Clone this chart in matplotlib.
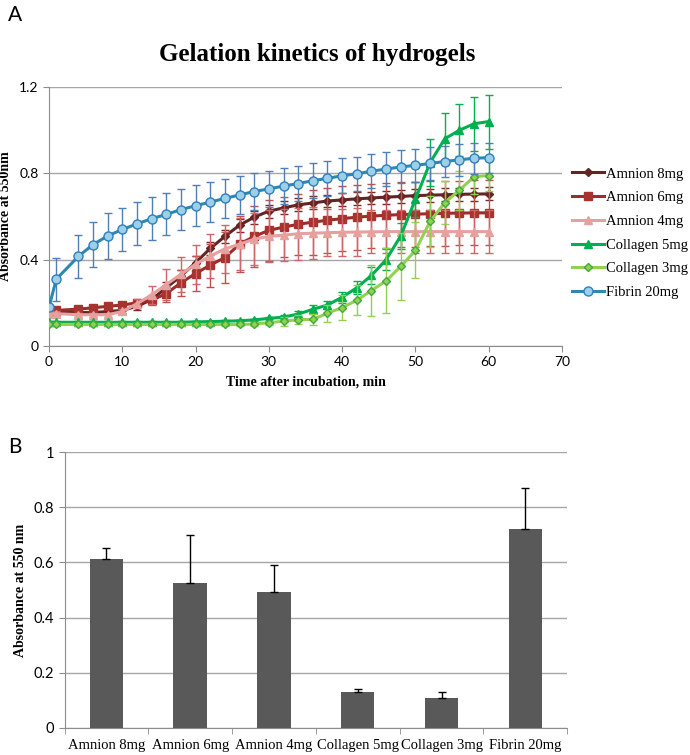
import matplotlib
matplotlib.use("Agg")
import matplotlib.pyplot as plt
import numpy as np

# ---------------- data: panel A (gelation kinetics) ----------------
times = [0, 1, 4, 6, 8, 10, 12, 14, 16, 18, 20, 22, 24, 26, 28, 30,
         32, 34, 36, 38, 40, 42, 44, 46, 48, 50, 52, 54, 56, 58, 60]

amnion8 = [0.155, 0.155, 0.155, 0.155, 0.16, 0.165, 0.184, 0.215, 0.27, 0.324, 0.386,
           0.452, 0.508, 0.56, 0.597, 0.625, 0.64, 0.654, 0.663, 0.672, 0.677,
           0.682, 0.686, 0.69, 0.693, 0.697, 0.699, 0.701, 0.703, 0.704, 0.705]
amnion8_err = [0.01, 0.01, 0.01, 0.01, 0.01, 0.01, 0.015, 0.02, 0.025, 0.03, 0.03,
               0.03, 0.03, 0.03, 0.03, 0.03, 0.03, 0.03, 0.03, 0.03, 0.03,
               0.03, 0.03, 0.03, 0.03, 0.03, 0.03, 0.03, 0.03, 0.03, 0.03]

amnion6 = [0.165, 0.165, 0.171, 0.177, 0.184, 0.19, 0.2, 0.212, 0.243, 0.293, 0.336,
           0.375, 0.41, 0.472, 0.508, 0.536, 0.551, 0.564, 0.574, 0.583, 0.59,
           0.597, 0.602, 0.606, 0.609, 0.611, 0.613, 0.615, 0.616, 0.617, 0.617]
amnion6_err = [0.01, 0.01, 0.01, 0.01, 0.01, 0.01, 0.015, 0.02, 0.04, 0.06, 0.08,
               0.1, 0.12, 0.13, 0.14, 0.14, 0.14, 0.14, 0.15, 0.15, 0.15,
               0.15, 0.15, 0.15, 0.15, 0.15, 0.15, 0.15, 0.15, 0.15, 0.15]

amnion4 = [0.15, 0.15, 0.145, 0.145, 0.145, 0.16, 0.196, 0.237, 0.285, 0.332, 0.379,
           0.417, 0.45, 0.472, 0.495, 0.508, 0.514, 0.52, 0.523, 0.525, 0.527,
           0.528, 0.529, 0.53, 0.53, 0.53, 0.53, 0.53, 0.53, 0.53, 0.53]
amnion4_err = [0.01, 0.01, 0.01, 0.01, 0.01, 0.01, 0.02, 0.04, 0.07, 0.08, 0.09,
               0.1, 0.11, 0.12, 0.12, 0.12, 0.12, 0.12, 0.12, 0.11, 0.11,
               0.11, 0.1, 0.1, 0.1, 0.1, 0.1, 0.1, 0.1, 0.1, 0.1]

collagen5 = [0.11, 0.11, 0.11, 0.11, 0.11, 0.11, 0.11, 0.11, 0.11, 0.11, 0.112,
             0.113, 0.115, 0.117, 0.121, 0.128, 0.134, 0.148, 0.17, 0.19, 0.226,
             0.27, 0.327, 0.4, 0.51, 0.68, 0.85, 0.96, 1.0, 1.03, 1.04]
collagen5_err = [0.005, 0.005, 0.005, 0.005, 0.005, 0.005, 0.005, 0.005, 0.005, 0.005, 0.005,
                 0.005, 0.005, 0.005, 0.005, 0.005, 0.01, 0.015, 0.02, 0.02, 0.025,
                 0.03, 0.04, 0.05, 0.06, 0.08, 0.11, 0.12, 0.12, 0.125, 0.125]

collagen3 = [0.1, 0.1, 0.1, 0.1, 0.1, 0.1, 0.1, 0.1, 0.1, 0.1, 0.1,
             0.1, 0.1, 0.1, 0.102, 0.108, 0.115, 0.122, 0.123, 0.152, 0.178,
             0.212, 0.257, 0.302, 0.369, 0.443, 0.577, 0.664, 0.722, 0.785, 0.79]
collagen3_err = [0.005, 0.005, 0.005, 0.005, 0.005, 0.005, 0.005, 0.005, 0.005, 0.005, 0.005,
                 0.005, 0.005, 0.005, 0.01, 0.01, 0.02, 0.02, 0.025, 0.04, 0.058,
                 0.07, 0.12, 0.15, 0.155, 0.13, 0.12, 0.1, 0.09, 0.08, 0.07]

fibrin = [0.18, 0.31, 0.415, 0.47, 0.51, 0.54, 0.566, 0.59, 0.61, 0.632, 0.65,
          0.667, 0.684, 0.7, 0.716, 0.728, 0.741, 0.753, 0.766, 0.777, 0.789,
          0.798, 0.81, 0.82, 0.83, 0.837, 0.846, 0.855, 0.863, 0.87, 0.873]
fibrin_err = [0.0, 0.1, 0.1, 0.105, 0.105, 0.1, 0.1, 0.1, 0.097, 0.095, 0.094,
              0.093, 0.092, 0.09, 0.085, 0.083, 0.082, 0.081, 0.08, 0.08, 0.08,
              0.08, 0.078, 0.078, 0.076, 0.075, 0.075, 0.074, 0.073, 0.072, 0.07]

# ---------------- data: panel B (final absorbance) ----------------
groups = ["Amnion 8mg", "Amnion 6mg", "Amnion 4mg", "Collagen 5mg", "Collagen 3mg", "Fibrin 20mg"]
final_abs = [0.614, 0.527, 0.493, 0.130, 0.110, 0.722]
final_err = [0.037, 0.171, 0.097, 0.010, 0.020, 0.149]

# series styling for panel A
series = [
    ("Amnion 8mg", amnion8, amnion8_err, "#632523", "D", "#632523", "#632523", 4.5, "#7a2a28"),
    ("Amnion 6mg", amnion6, amnion6_err, "#9B2D2A", "s", "#A8322E", "#A8322E", 5.5, "#C0504D"),
    ("Amnion 4mg", amnion4, amnion4_err, "#E6A09E", "^", "#E6A09E", "#E6A09E", 6, "#D0656A"),
    ("Collagen 5mg", collagen5, collagen5_err, "#00B050", "^", "#00B050", "#00B050", 6, "#00B050"),
    ("Collagen 3mg", collagen3, collagen3_err, "#92D050", "D", "#92D050", "#3DAA3D", 4.5, "#92D050"),
    ("Fibrin 20mg", fibrin, fibrin_err, "#2F88AE", "o", "#9CCFE8", "#2F7FC0", 6.5, "#4F7FB5"),
]

grid_col = "#A6A6A6"
serif = "Liberation Serif"
sans = "Lato"

fig = plt.figure(figsize=(6.9, 7.55), dpi=100)

# ---------------- panel A ----------------
ax = fig.add_axes([0.071, 0.5417, 0.7435, 0.3430])
handles = []
for z, (name, vals, errs, lc, mk, mfc, mec, ms, ec) in enumerate(series):
    ax.errorbar(times, vals, yerr=errs, fmt="none", ecolor=ec, elinewidth=1.0,
                capsize=2.6, capthick=1.0, zorder=2 + 2 * z)
    h, = ax.plot(times, vals, color=lc, lw=2.2, marker=mk, markersize=ms,
                 markerfacecolor=mfc, markeredgecolor=mec, markeredgewidth=1.0,
                 zorder=3 + 2 * z, label=name)
    handles.append(h)

ax.set_xlim(0, 70)
ax.set_ylim(0, 1.2)
ax.set_xticks(range(0, 71, 10))
ax.set_yticks([0, 0.4, 0.8, 1.2])
ax.set_yticklabels(["0", "0.4", "0.8", "1.2"])
ax.grid(axis="y", color=grid_col, lw=1.0)
ax.set_axisbelow(True)
for s in ["top", "right"]:
    ax.spines[s].set_visible(False)
for s in ["left", "bottom"]:
    ax.spines[s].set_color("#8C8C8C")
ax.tick_params(axis="both", colors="#8C8C8C", length=4, labelcolor="black",
               labelsize=10)
for lab in ax.get_xticklabels() + ax.get_yticklabels():
    lab.set_family(sans)

fig.text(317 / 690, 1 - 55 / 755, "Gelation kinetics of hydrogels", family=serif,
         fontweight="bold", fontsize=18, ha="center", va="center")
ax.set_xlabel("Time after incubation, min", family=serif, fontweight="bold",
              fontsize=10, labelpad=5)
ax.set_ylabel("Absorbance at 550nm", family=serif, fontweight="bold",
              fontsize=10, labelpad=5)

ax.legend(handles=handles, loc="upper left", bbox_to_anchor=(1.02, 0.69),
          frameon=False, borderaxespad=0, borderpad=0, handlelength=2.2,
          handletextpad=0.1, labelspacing=0.72,
          prop={"family": serif, "size": 10.5})

fig.text(0.012, 1 - 15 / 755, "A", family=sans, fontsize=15, va="center", ha="left")

# ---------------- panel B ----------------
bx = fig.add_axes([0.0935, 0.0358, 0.7285, 0.3655])
xpos = np.arange(len(groups))
bx.bar(xpos, final_abs, width=0.4, color="#595959", zorder=3,
       yerr=[np.zeros(len(final_err)), final_err],
       error_kw=dict(ecolor="black", elinewidth=1.0, capsize=3, capthick=1.0, zorder=4))

bx.set_xlim(-0.5, len(groups) - 0.5)
bx.set_ylim(0, 1)
bx.set_yticks([0, 0.2, 0.4, 0.6, 0.8, 1.0])
bx.set_yticklabels(["0", "0.2", "0.4", "0.6", "0.8", "1"])
bx.set_xticks(xpos)
bx.set_xticklabels(groups, family=serif, fontsize=10.5)
bx.set_xticks(np.arange(-0.5, len(groups)), minor=True)
bx.tick_params(axis="x", which="major", length=0, pad=8)
bx.tick_params(axis="x", which="minor", length=4, colors="#8C8C8C")
bx.tick_params(axis="y", length=4, colors="#8C8C8C", labelcolor="black", labelsize=10.5)
for lab in bx.get_yticklabels():
    lab.set_family(sans)
bx.grid(axis="y", color=grid_col, lw=1.0)
bx.set_axisbelow(True)
for s in ["top", "right"]:
    bx.spines[s].set_visible(False)
for s in ["left", "bottom"]:
    bx.spines[s].set_color("#8C8C8C")
bx.set_ylabel("Absorbance at 550 nm", family=serif, fontweight="bold",
              fontsize=10, labelpad=5)

fig.text(0.012, 1 - 447 / 755, "B", family=sans, fontsize=15, va="center", ha="left")

fig.savefig("out.png", dpi=100)
